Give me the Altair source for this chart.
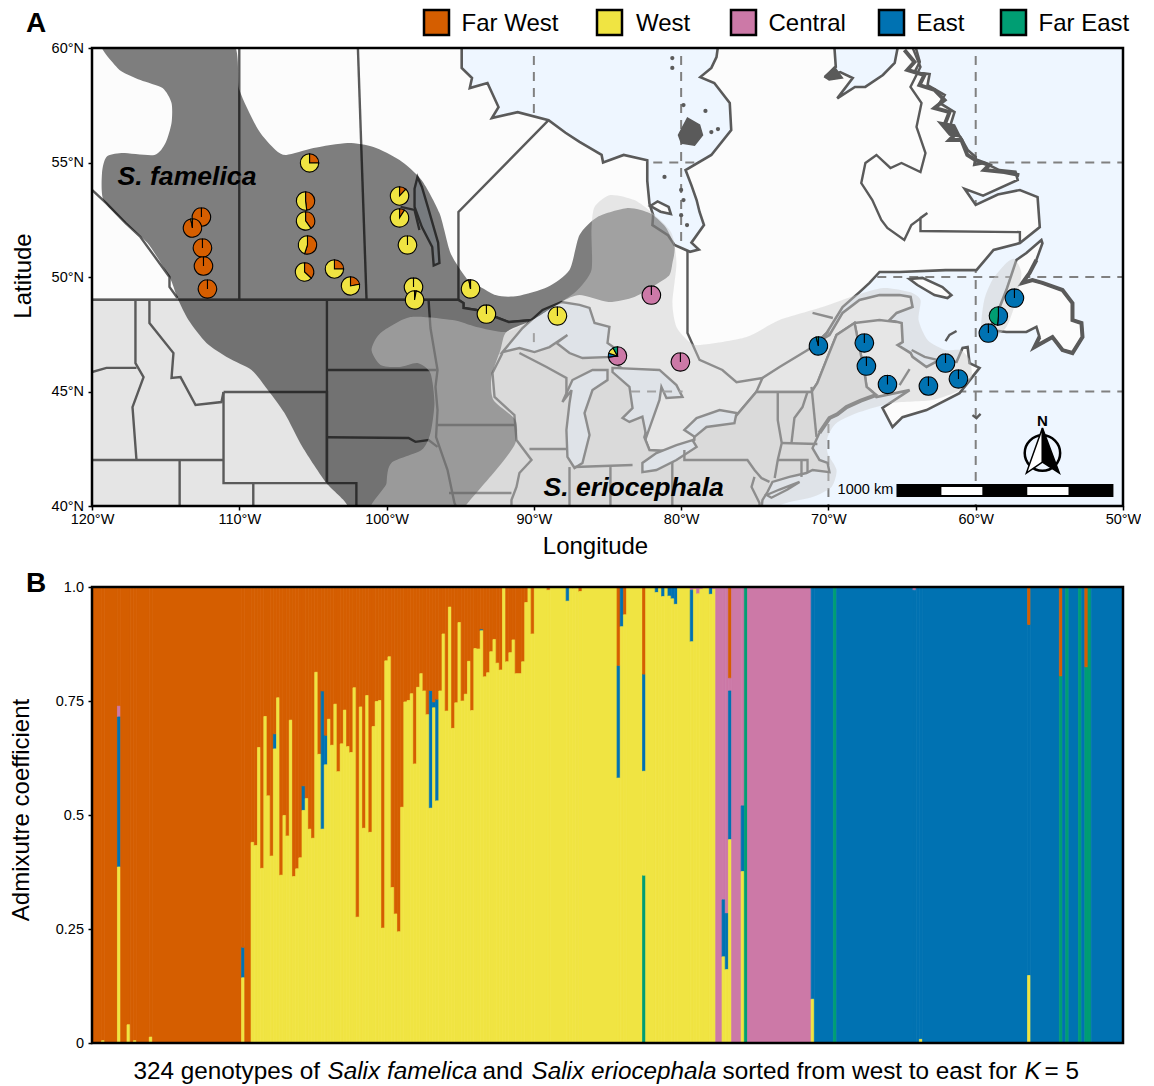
import altair as alt
import pandas as pd

FONT = "Liberation Sans"
POPS = ["Far West", "West", "Central", "East", "Far East"]
COLS = ["#D55E00", "#F0E442", "#CC79A7", "#0072B2", "#009E73"]
OCEAN = "#EEF6FF"
CAN = "#FCFCFC"
USA_C = "#E5E5E5"
BORDER_C = "#5A5A5A"

# ---------- map geometry (lon, lat) ----------
HUDSON = [(-94.9,61),(-94.9,59.13),(-94.2,58.69),(-94.35,58.25),(-93.15,58.47),(-92.4,57.42),(-92.85,56.94),(-91.1,57.2),(-89.0,56.85),(-87.85,56.3),(-86.9,55.9),(-85.4,55.33),(-85.3,55),(-83.9,55.33),(-82.3,55.1),(-82.3,54.2),(-82.15,53.2),(-81.9,52.7),(-81.95,52.27),(-80.9,51.83),(-80.45,51.4),(-79.4,51.1),(-78.8,51.2),(-79.3,51.5),(-78.45,52.27),(-78.75,52.84),(-78.95,53.36),(-79.3,54.0),(-79.7,54.67),(-77.95,55.33),(-76.6,56.42),(-76.7,57.6),(-77.75,58.47),(-78.7,58.73),(-77.95,59.13),(-77.6,59.6),(-77.3,61)]
UNGAVA = [(-69.7,61),(-69.5,59.17),(-70.25,58.73),(-69.2,58.95),(-68.35,58.69),(-69.4,57.8),(-68.2,58.3),(-67.5,58.3),(-66.3,58.82),(-65.5,59.35),(-65,61)]
LABRADOR = [(-64.5,61),(-63.8,59.39),(-64.15,58.95),(-63.13,58.86),(-63.27,58.38),(-62.11,57.95),(-62.45,57.6),(-61.44,57.2),(-61.78,56.5),(-61.03,56.11),(-60.55,55.55),(-60,55.24),(-60.1,54.9),(-59.4,54.98),(-58.4,54.67),(-57.3,54.6),(-57.15,54.24),(-59.5,53.55),(-60.75,53.85),(-60.0,53.15),(-58.5,53.6),(-57,53.8),(-55.8,53.49),(-55.65,52.18),(-57,51.48),(-58.79,51.18),(-59.95,50.3),(-62.05,50.3),(-65.17,50.22),(-66.53,50.22),(-67.21,49.74),(-67.89,49.34),(-69.04,48.69),(-70.13,47.55),(-70.75,47.16)]
LAB_ROUGH = [(-64.84,59.91),(-64.16,59.39),(-64.64,59.04),(-63.48,58.82),(-63.82,58.38),(-62.8,58.17),(-62.12,57.73),(-62.8,57.38),(-61.78,57.2),(-62.12,56.64),(-61.44,56.2),(-61.78,55.98),(-60.97,55.98),(-60.57,55.33),(-60.03,55.11),(-59.08,54.89),(-59.42,54.67),(-58.06,54.58),(-57.04,54.45)]
MARITIMES = [(-69.93,47.47),(-69.04,48.43),(-67.89,49),(-66.53,49.21),(-65.17,49.21),(-64.42,49.13),(-64.29,48.69),(-65.37,48.43),(-65.85,48.12),(-65.03,47.99),(-64.96,47.16),(-65.3,47.03),(-64.42,46.68),(-64.29,46.51),(-63.34,46.07),(-62.45,46.38),(-61.3,46.29),(-60.89,46.9),(-60.55,46.94),(-60.42,46.24),(-59.74,46.03),(-61.1,44.93),(-63.34,44.19),(-64.97,43.88),(-65.65,43.45),(-66.33,44.28),(-64.49,45.06),(-66.74,44.76)]
CAN_US = [(-121,49),(-95.12,49),(-94.78,48.86),(-94.78,48.65),(-93.9,48.56),(-92.6,48.25),(-91.7,48.03),(-90.09,48.12),(-87.6,47.68),(-85.5,47.03),(-84.7,46.38),(-82.8,45.3),(-82.15,43.75),(-82.5,43),(-82.15,42.44),(-80.1,42.36),(-79.1,42.88),(-79.1,43.5),(-76.4,43.84),(-74.9,44.98),(-71.15,44.98),(-70.75,45.37),(-70.13,46.38),(-69.45,47.47),(-68.23,47.99),(-67.55,45.81),(-67.41,45.2),(-67,44.98)]
US_COAST = [(-66.74,44.85),(-67.8,44.6),(-68.77,44.32),(-69.4,44.0),(-69.93,43.84),(-70.61,43.19),(-71.08,42.53),(-70.61,42.01),(-70.06,41.88),(-69.93,41.48),(-71.08,41.57),(-71.49,41.44),(-72.65,41.27),(-73.8,41.05),(-74.14,40.61),(-74.48,40.26),(-74.68,39)]
CANADA = [(-121,61)] + HUDSON + UNGAVA + LABRADOR + MARITIMES + CAN_US[::-1]
USA = CAN_US + US_COAST + [(-121,39)]
NEWFOUNDLAND = [(-55.54,51.62),(-56.56,51.05),(-57.24,50.74),(-57.92,49.43),(-58.53,48.43),(-59.08,47.69),(-57.92,47.6),(-56.56,47.6),(-55.88,47.82),(-55.67,47.38),(-56.01,46.94),(-54.79,47.38),(-54.11,46.81),(-53.43,46.68),(-52.75,47.38),(-52.82,47.99),(-53.43,48.12),(-53.43,48.86),(-54.11,49.43),(-55.47,49.74),(-56.15,49.87),(-56.83,49.74),(-56.35,50.17),(-55.88,50.74),(-55.47,51.48)]
ANTICOSTI = [(-64.5,49.91),(-63.62,49.96),(-62.26,49.56),(-61.65,49.21),(-61.92,49.08),(-62.8,49.21),(-63.96,49.65)]
AKIMISKI = [(-82.1,53.1),(-81.6,53.3),(-80.85,53.06),(-80.7,52.75),(-81.4,52.85),(-81.95,53.05)]
LONG_ISLAND = [(-74.2,40.48),(-73.32,40.72),(-71.96,41.05),(-72.78,40.72),(-73.87,40.36)]

L_SUPERIOR = [(-92.13,46.72),(-90.77,47.77),(-89.41,48.56),(-88.12,48.91),(-86.9,48.78),(-86.22,48.65),(-85.88,47.99),(-84.87,47.82),(-85,47.12),(-84.32,46.81),(-84.66,46.51),(-86.7,46.46),(-87.58,46.68),(-88.46,47.12),(-87.72,47.47),(-88.94,46.94),(-89.96,46.72),(-90.98,46.9)]
L_MICHIGAN = [(-85,45.94),(-86.02,45.94),(-87.38,45.5),(-88.06,44.54),(-87.44,45.06),(-87.58,44.5),(-87.79,43.32),(-87.72,42.14),(-87.24,41.66),(-86.7,41.88),(-86.22,43.1),(-86.56,44.06),(-86.02,45.06),(-85,45.5)]
L_HURON = [(-84.66,46.03),(-81.47,45.94),(-80.32,45.28),(-79.91,44.76),(-81,44.72),(-81.34,45.2),(-81.47,44.63),(-82.36,43.02),(-82.63,43.9),(-83.51,43.67),(-83.98,43.84),(-83.3,44.28),(-83.51,45.2),(-84.66,45.85)]
L_ERIE = [(-79.23,42.88),(-80.32,42.66),(-81.68,42.31),(-82.63,41.88),(-82.63,41.48),(-81.68,41.57),(-80.32,42.01),(-78.95,42.58)]
L_ONTARIO = [(-79.78,43.32),(-78.95,43.84),(-77.39,44.19),(-76.24,44.06),(-76.38,43.62),(-78.28,43.45),(-79.09,43.02)]
L_WINNIPEG = [(-98.1,53.85),(-97.9,54.37),(-97.6,53.93),(-97.2,53.06),(-96.5,51.5),(-96.41,50.61),(-96.8,50.5),(-96.9,51.31),(-97.6,52.18),(-98.1,53.06)]

BELCHER = [(-80.18,56.2),(-79.57,56.94),(-78.75,56.64),(-78.55,56.2),(-79.09,55.76),(-79.98,55.85)]
LAB_BLOB = [(-62.53,56.77),(-61.44,56.64),(-61.03,56.11),(-61.78,56.2)]
UNG_BLOB = [(-70.25,58.73),(-69.6,59.17),(-69.05,58.69),(-69.95,58.6)]

BC_AB = [(-120,53.8),(-119,53.2),(-117.73,52.36),(-116.71,51.75),(-114.74,50),(-114.74,49.57),(-114.2,49.08)]
AB_SK = [(-110,61),(-110,49)]
SK_MB = [(-102,61),(-101.36,49)]
MB_ON = [(-89,56.85),(-95.12,52.84),(-95.12,49)]
ON_QC = [(-79.57,51.18),(-79.57,47.55),(-78.75,46.38),(-77.2,45.94),(-76.24,45.41),(-74.48,45.59),(-74.9,44.98)]
ST_LAWRENCE = [(-74.48,45.59),(-73.32,46.07),(-71.08,46.94),(-70.13,47.55)]
SAGUENAY = [(-71.08,48.43),(-69.7,48.21)]
NB_QC = [(-68.23,47.99),(-66.53,48.12),(-65.37,48.03)]
NB_NS = [(-65.17,45.28),(-64.49,45.98)]
PEI = [(-64.35,46.81),(-63.47,46.51),(-62.6,46.38)]
MAGDALEN = [(-62.05,47.2),(-61.78,47.47),(-61.3,47.64)]
SABLE = [(-60.22,43.97),(-59.95,43.84),(-59.67,44.02)]
QC_LAB = [(-57,51.53),(-57,51.96),(-63.75,52.01),(-63.75,52.58),(-63.28,52.79),(-64.37,52.27),(-64.85,51.62),(-66,52.14),(-66.41,52.49),(-67.02,53.36),(-67.77,54.1),(-67.49,54.98),(-66.74,55.33),(-65.79,54.76),(-65.04,54.98),(-63.75,54.58),(-63.41,55.41),(-64.02,56.55),(-63.68,57.6),(-64.43,58.3),(-63.75,59.17),(-64.91,61)]
WA_OR = [(-120,45.85),(-119.02,46.03),(-116.98,46.03)]
OR_ID = [(-117.05,49),(-117.05,46.24),(-116.5,45.63),(-117.25,44.32),(-116.98,42.01)]
MT_ID = [(-116.1,49),(-116.1,47.99),(-114.47,46.68),(-114.6,45.59),(-113.99,45.63),(-112.97,44.41),(-111.21,44.54),(-111.07,44.98)]
ID_S = [(-120,42.01),(-111.07,42.01)]
WY = [(-111.07,44.98),(-104.05,44.98),(-104.05,41),(-111.07,41),(-111.07,44.98)]
MT_ND = [(-104.05,49),(-104.05,41)]
SD_ND = [(-104.05,45.94),(-96.6,45.94)]
SD_NE = [(-104.05,43),(-98.51,42.97),(-98.04,42.8),(-97.15,42.88),(-96.54,42.58)]
NE_CO = [(-104.05,41),(-102.05,41),(-102.05,40)]
UT_CO = [(-109.05,41),(-109.05,40)]
NV_UT = [(-114.05,42),(-114.05,40)]
RED_RIVER = [(-97.15,49),(-97.02,47.77),(-96.54,45.94),(-96.68,45.2),(-96.54,44.19),(-96.64,43.01),(-95.86,41.57),(-95.39,40.13),(-95.3,40)]
IA_MN = [(-96.54,43.54),(-91.25,43.54)]
IA_MO = [(-95.76,40.57),(-91.52,40.57)]
MISSISSIPPI = [(-92.13,46.68),(-92.81,45.81),(-92.67,44.76),(-91.32,43.97),(-91.18,42.88),(-90.16,42.01),(-90.98,41.44),(-91.18,40.83),(-91.52,40.26),(-91.52,40)]
WI_IL = [(-90.3,42.49),(-87.79,42.49)]
WI_MI = [(-90.98,46.68),(-89.14,46.07),(-87.79,45.59),(-87.79,44.93)]
MI_S = [(-87.24,41.7),(-83.3,41.79)]
IL_IN = [(-87.58,41.7),(-87.58,40)]
IN_OH = [(-84.8,41.7),(-84.8,40)]
OH_PA = [(-80.6,41.92),(-80.6,40)]
NY_PA = [(-79.78,42.44),(-79.78,42.01),(-75.5,42.01),(-75.02,41.57),(-74.55,41.22),(-74,41.05)]
PA_NJ = [(-75.02,41.27),(-75.22,40.83),(-74.68,40.13),(-74.68,40)]
NY_VT = [(-73.44,44.98),(-73.44,43.75),(-73.17,42.75),(-73.44,42.01),(-73.65,41.22)]
MA_N = [(-73.17,42.75),(-70.75,42.71)]
NH_VT = [(-71.42,44.98),(-71.76,44.32),(-72.31,43.84),(-72.51,42.75)]
NH_ME = [(-71.15,45.2),(-70.81,43.02)]
MA_CT = [(-73.44,42.01),(-71.42,42.01),(-71.42,41.48)]
CT_RI = [(-71.83,42.01),(-71.83,41.27)]
WINNIPEGOSIS = [(-99.05,53.06),(-98.1,52.93),(-97.77,52.05)]

BORDERS = [BC_AB,AB_SK,SK_MB,MB_ON,ON_QC,ST_LAWRENCE,SAGUENAY,NB_QC,NB_NS,PEI,MAGDALEN,SABLE,QC_LAB,WA_OR,OR_ID,MT_ID,ID_S,WY,MT_ND,SD_ND,SD_NE,NE_CO,UT_CO,NV_UT,RED_RIVER,IA_MN,IA_MO,MISSISSIPPI,WI_IL,WI_MI,MI_S,IL_IN,IN_OH,OH_PA,NY_PA,PA_NJ,NY_VT,MA_N,NH_VT,NH_ME,MA_CT,CT_RI,WINNIPEGOSIS]

ISLET_LON = [-79.84,-78.35,-77.95,-77.5,-80.6,-80.6,-81.13,-80,-79.84,-80,-79.6]
ISLET_LAT = [57.51,57.25,56.33,56.46,59.56,59.13,54.37,53.8,53.36,52.7,52.27]

GRID_LONS = [-90,-80,-70,-60]
GRID_LATS = [55,50,45]
LAKE_GRID = [[(-90,47.55),(-90,46.95)],[(-83.4,45),(-79.9,45)]]

FAMELICA = [(-119.22,60.5),(-110.83,60.5),(-109.99,58.17),(-108.7,56.42),(-107.54,55.55),(-106.8,55.33),(-104.96,55.63),(-102.65,55.85),(-100.89,55.68),(-99.12,55.11),(-97.63,54.24),(-96.41,52.79),(-95.66,51.05),(-94.64,50),(-94.37,49.87),(-92.6,49.21),(-91.1,49.17),(-89.07,49.56),(-87.58,50.31),(-86.9,51.83),(-85.68,52.62),(-83.64,53.01),(-82.15,52.79),(-81.06,52.18),(-80.45,51.31),(-80.59,50.61),(-80.79,50.09),(-81.54,49.74),(-83.17,49.13),(-84.93,48.91),(-86.9,49.21),(-88.12,48.91),(-90.09,48.12),(-91.86,47.6),(-92.27,46.81),(-92.88,45.63),(-92.74,44.63),(-91.25,43.75),(-91.25,42.75),(-92.4,41.7),(-94.64,40),(-95.6,39),(-103.3,39),(-102.65,40),(-104.08,41),(-105.71,42.58),(-106.93,44.06),(-108.22,45.2),(-109.17,45.94),(-110.73,46.46),(-112.23,47.12),(-113.45,48.12),(-114.2,49.08),(-114.74,50),(-116.23,51.48),(-117.73,52.36),(-119.22,53.36),(-119.32,54.54),(-119.02,55.24),(-118,55.41),(-115.76,55.33),(-115.01,55.85),(-114.6,56.72),(-114.6,57.6),(-115.21,58.25),(-116.71,58.6),(-118.27,59.13)]
ERIOCEPHALA = [(-100,39),(-100,41),(-99.67,41.88),(-97.63,42.44),(-97.02,43.19),(-96.75,44.5),(-97.02,45.8),(-97.9,46.24),(-99.12,46.07),(-100.41,46.16),(-101.02,46.81),(-100.41,47.55),(-98.38,48.25),(-95.52,48.12),(-93.9,47.82),(-91.86,47.6),(-90.09,48.12),(-88.12,48.91),(-87.04,49.43),(-86.09,50.31),(-86.09,52.05),(-85.88,53.06),(-84.8,53.58),(-83.17,53.36),(-81.95,52.79),(-80.66,51.92),(-80.32,50.61),(-80.59,48.86),(-80.32,47.82),(-79.43,47.16),(-78.68,47.03),(-75.56,47.38),(-73.32,48.12),(-70.4,48.69),(-68.09,49.21),(-66.26,49.52),(-64.49,49.34),(-63.75,49),(-63.88,48.12),(-63.27,47.25),(-62.05,46.81),(-61.03,46.81),(-60.42,46.38),(-60.28,45.63),(-61.1,45.06),(-62.93,44.63),(-65.65,44.5),(-67.89,44.1),(-69.45,43.62),(-70.06,43),(-70.06,42.31),(-69.45,41.57),(-69.79,40.83),(-71.08,40.39),(-72.85,40.13),(-74,39.8),(-75,39)]
NF_RANGE = [(-57.37,50.79),(-56.9,50.17),(-57.24,49),(-57.92,47.82),(-59.08,47.25),(-59.62,47.82),(-59.42,49),(-58.87,49.87),(-57.92,50.61)]

# ---------- pies ----------
PIE_LON = [-112.57,-113.18,-112.5,-112.43,-112.16,-105.23,-105.5,-105.5,-105.37,-105.57,-103.54,-102.45,-99.12,-99.12,-98.58,-98.17,-98.1,-94.3,-93.22,-88.4,-84.32,-82.02,-80.05,-70.68,-67.56,-67.42,-65.99,-63.21,-62.05,-61.17,-59.14,-58.46,-57.37]
PIE_LAT = [52.62,52.14,51.27,50.48,49.48,54.98,53.32,52.45,51.4,50.22,50.35,49.61,53.54,52.58,51.4,49.56,49.0,49.48,48.38,48.3,46.55,49.21,46.29,46.99,47.12,46.11,45.31,45.24,46.24,45.55,47.55,48.3,49.08]
PIE_MIX = [
 [("Far West",.999)],[("Far West",.97),("West",.03)],[("Far West",.999)],[("Far West",.999)],[("Far West",.999)],
 [("Far West",.25),("West",.75)],[("Far West",.48),("West",.52)],[("Far West",.40),("West",.60)],[("Far West",.55),("West",.45)],[("Far West",.37),("West",.63)],
 [("Far West",.25),("West",.75)],[("Far West",.22),("West",.78)],[("Far West",.12),("West",.88)],[("Far West",.09),("West",.91)],
 [("West",.999)],[("West",.999)],[("Far West",.03),("West",.97)],[("West",.97),("Far West",.03)],[("West",.999)],[("West",.999)],
 [("Central",.73),("East",.07),("West",.12),("Far East",.08)],[("Central",.999)],[("Central",.999)],
 [("East",.96),("Far East",.04)],[("East",.999)],[("East",.999)],[("East",.999)],[("East",.999)],[("East",.999)],[("East",.999)],[("East",.999)],
 [("East",.515),("Far East",.485)],[("East",.999)],
]

# ---------- admixture: cumulative tops, bottom-up Far East / West / East / Central, rest Far West ----------
N_GENOTYPES = 324
WEST_TOPS_50 = [.44,.433,.648,.383,.716,.542,.41,.645,.757,.368,.499,.454,.708,.365,.382,.406,.51,.536,.469,.449,.813,.633,.469,.61,.71,.653,.743,.595,.656,.73,.65,.637,.779,.276,.737,.471,.762,.462,.694,.749,.751,.252,.838,.847,.341,.283,.244,.517,.748,.751,.766,.612,.78,.81,.772,.72,.515,.735,.531,.772,.897,.728,.956,.69,.746,.922,.75,.765,.837,.729,.865,.864,.904,.803,.812,.858,.885,.833,.818,1.0,.836,.856,.884,.81,.81,.836,.966,1.0,.897]
EAST_TOPS = {57:.678,66:.564,72:.772,73:.675,106:.773,107:.748,108:.754,122:.908}
SPECIAL = {
 3:(0,.005,.005,.005),8:(0,.386,.715,.74),11:(0,.04,.04,.04),13:(0,.005,.005,.005),18:(0,.013,.013,.013),47:(0,.143,.21,.21),
 143:(0,.993,.993,.993),149:(0,.969,1,1),151:(0,.997,.997,.997),153:(0,.99,.99,.99),165:(0,.581,.828,.828),166:(0,.913,1,1),167:(0,.939,.939,.939),
 173:(.368,.596,.809,.809),177:(0,.988,1,1),179:(0,.979,1,1),181:(0,.98,1,1),182:(0,.974,1,1),183:(0,.962,1,1),
 188:(0,.88,.993,1),189:(0,.995,.995,1),190:(0,.985,.985,1),191:(0,.995,.995,1),194:(0,.984,1,1),195:(0,.995,.995,1),
 198:(0,.189,.314,1),199:(0,.161,.284,1),200:(0,.446,.772,.801),204:(0,.376,.52,1),205:(1,1,1,1),
 226:(0,.096,1,1),233:(1,1,1,1),258:(0,0,.993,1),260:(0,.008,1,1),294:(0,.148,.918,.918),304:(.805,.805,.805,.805),306:(1,1,1,1),310:(1,1,1,1),312:(.825,.825,.825,.825),313:(1,1,1,1),
}

def mix_of(i):
    if i in SPECIAL:
        return SPECIAL[i]
    if i < 50:
        return (0, 0, 0, 0)
    if i <= 138:
        w = WEST_TOPS_50[i - 50]
        return (0, w, EAST_TOPS.get(i, w), EAST_TOPS.get(i, w))
    if i < 196:
        return (0, 1, 1, 1)
    if i < 226:
        return (0, 0, 0, 1)
    return (0, 0, 1, 1)

order_bottom_up = ["Far East", "West", "East", "Central", "Far West"]
raw = []
for i in range(N_GENOTYPES):
    tops = list(mix_of(i)) + [1.0]
    low = 0.0
    for pop, top in zip(order_bottom_up, tops):
        if top > low:
            raw.append(dict(g0=i, g1=i + 1, v0=low, v1=top, pop=pop))
        low = max(low, top)
raw.sort(key=lambda r: (r["pop"], r["v0"], r["v1"], r["g0"]))
bars = []
for r in raw:
    p = bars[-1] if bars else None
    if p and p["pop"] == r["pop"] and p["v0"] == r["v0"] and p["v1"] == r["v1"] and p["g1"] == r["g0"]:
        p["g1"] = r["g1"]
    else:
        bars.append(dict(r))
bars.sort(key=lambda r: r["g0"])
bars_df = pd.DataFrame(bars)

# ---------- helpers ----------
color_scale = alt.Scale(domain=POPS, range=COLS)
lon_scale = alt.Scale(domain=[-120, -50], nice=False, zero=False)
lat_scale = alt.Scale(domain=[40, 60], nice=False, zero=False)
X = alt.X("lon:Q", scale=lon_scale, axis=alt.Axis(
    values=[-120,-110,-100,-90,-80,-70,-60,-50], labelExpr="abs(datum.value)+'°W'",
    title="Longitude", titleFontSize=24, titleFont=FONT, titleFontWeight="normal", titleColor="black",
    titlePadding=9, titleX=503, labelFont=FONT, labelFontSize=14.5, labelColor="black", tickColor="black", tickSize=4, tickWidth=1.5,
    domain=False, grid=False, labelPadding=2, labelFlush=False, labelOverlap=False))
Y = alt.Y("lat:Q", scale=lat_scale, axis=alt.Axis(
    values=[40,45,50,55,60], labelExpr="datum.value+'°N'",
    title="Latitude", titleFontSize=24, titleFont=FONT, titleFontWeight="normal", titleColor="black",
    titlePadding=4, titleY=227.5, labelFont=FONT, labelFontSize=14.5, labelColor="black", tickColor="black", tickSize=4, tickWidth=1.5,
    domain=False, grid=False, labelPadding=4.5, minExtent=53, labelOverlap=False))

def frame(paths):
    rows = []
    for k, path in enumerate(paths):
        for j, (a, b) in enumerate(path):
            rows.append(dict(lon=a, lat=b, ord=j, id=k))
    return pd.DataFrame(rows)

def shapes(paths, **mark):
    return alt.Chart(frame(paths)).mark_line(clip=True, **mark).encode(
        x=X, y=Y, detail="id:N", order="ord:Q")

def box(lon0, lon1, lat0, lat1, **mark):
    d = pd.DataFrame([dict(lon=lon0, lon2=lon1, lat=lat0, lat2=lat1)])
    return alt.Chart(d).mark_rect(**mark).encode(x=X, x2="lon2:Q", y=Y, y2="lat2:Q")

def label(text, x, y, size, **kw):
    return alt.Chart(pd.DataFrame([dict(t=text)])).mark_text(
        font=FONT, fontSize=size, color="black", align=kw.pop("align", "left"), baseline="alphabetic", **kw
    ).encode(x=alt.value(x), y=alt.value(y), text="t:N")

def swatch(colour, x):
    return alt.Chart(pd.DataFrame([dict(t=0)])).mark_rect(fill=colour, stroke="black", strokeWidth=2.5).encode(
        x=alt.value(x), x2=alt.value(x + 25), y=alt.value(-38), y2=alt.value(-13))

grid_paths = [[(g, 39), (g, 61)] for g in GRID_LONS] + [[(-121, g), (-49, g)] for g in GRID_LATS]

pie_rows = []
for a, b, mix in zip(PIE_LON, PIE_LAT, PIE_MIX):
    t = 0.0
    for pop, f in mix:
        pie_rows.append(dict(lon=a, lat=b, t0=t, t1=t + f, pop=pop))
        t += f
pie_df = pd.DataFrame(pie_rows)

pies = alt.Chart(pie_df).mark_arc(outerRadius=9.2, stroke="black", strokeWidth=1.1).encode(
    x=X, y=Y,
    theta=alt.Theta("t0:Q", scale=alt.Scale(domain=[0, 1], range=[0, 6.28319]), stack=False),
    theta2=alt.Theta2("t1:Q"),
    color=alt.Color("pop:N", scale=color_scale, legend=None),
)

islets = alt.Chart(pd.DataFrame(dict(lon=ISLET_LON, lat=ISLET_LAT))).mark_point(
    filled=True, size=18, color=BORDER_C, opacity=1, clip=True).encode(x=X, y=Y)

compass_ring = alt.Chart(pd.DataFrame(dict(lon=[-55.47], lat=[42.31]))).mark_point(
    shape="circle", size=1257, filled=False, stroke="black", strokeWidth=2.5, opacity=1).encode(x=X, y=Y)
compass_text = alt.Chart(pd.DataFrame(dict(lon=[-55.47], lat=[43.72], t=["N"]))).mark_text(
    font=FONT, fontSize=15, fontWeight="bold", color="black").encode(x=X, y=Y, text="t:N")
scale_text = alt.Chart(pd.DataFrame(dict(lon=[-65.6], lat=[40.68], t=["1000 km"]))).mark_text(
    font=FONT, fontSize=14.5, color="black", align="right", baseline="middle").encode(x=X, y=Y, text="t:N")

map_panel = alt.layer(
    box(-120, -50, 40, 60, fill=OCEAN),
    shapes(grid_paths, color="#808080", strokeWidth=2, strokeDash=[9, 7]),
    shapes([CANADA, NEWFOUNDLAND, ANTICOSTI, AKIMISKI], interpolate="linear-closed", fill=CAN, color=BORDER_C, strokeWidth=2.6),
    shapes([USA], interpolate="linear-closed", fill=USA_C, color=BORDER_C, strokeWidth=2.4),
    shapes([LONG_ISLAND], interpolate="linear-closed", fill=OCEAN, color=BORDER_C, strokeWidth=2.4),
    shapes([L_SUPERIOR, L_MICHIGAN, L_HURON, L_ERIE, L_ONTARIO, L_WINNIPEG], interpolate="linear-closed", fill=OCEAN, color=BORDER_C, strokeWidth=2.4),
    shapes(LAKE_GRID, color="#808080", strokeWidth=2, strokeDash=[9, 7]),
    shapes(BORDERS, color=BORDER_C, strokeWidth=2.4),
    shapes([LAB_ROUGH, NEWFOUNDLAND[9:24], US_COAST[:6]], color=BORDER_C, strokeWidth=4),
    shapes([BELCHER, LAB_BLOB, UNG_BLOB], interpolate="linear-closed", fill=BORDER_C, color=BORDER_C, strokeWidth=1.5),
    islets,
    shapes([FAMELICA], interpolate="cardinal-closed", tension=0.3, fill="#000000", fillOpacity=0.5, strokeWidth=0, strokeOpacity=0),
    shapes([ERIOCEPHALA, NF_RANGE], interpolate="cardinal-closed", tension=0.3, fill="#CBCBCB", fillOpacity=0.45, strokeWidth=0, strokeOpacity=0),
    box(-65.38, -50.65, 40.39, 40.96, fill="black"),
    box(-62.33, -59.55, 40.48, 40.83, fill="white"),
    box(-56.5, -53.7, 40.48, 40.83, fill="white"),
    compass_ring,
    shapes([[(-55.47,43.41),(-55.47,41.92),(-56.56,41.44)]], interpolate="linear-closed", fill="white", color="black", strokeWidth=1.5),
    shapes([[(-55.47,43.41),(-55.47,41.92),(-54.32,41.44)]], interpolate="linear-closed", fill="black", color="black", strokeWidth=1.5),
    compass_text, scale_text,
    pies,
    label("S. famelica", 25.5, 137, 26.6, fontStyle="italic", fontWeight="bold"),
    label("S. eriocephala", 451.5, 448, 26.6, fontStyle="italic", fontWeight="bold"),
    label("A", -66, -16, 28, fontWeight="bold"),
    swatch(COLS[0], 332), label("Far West", 369.5, -17, 24),
    swatch(COLS[1], 505), label("West", 544, -17, 24),
    swatch(COLS[2], 639), label("Central", 676.5, -17, 24),
    swatch(COLS[3], 787), label("East", 824.5, -17, 24),
    swatch(COLS[4], 909), label("Far East", 946.5, -17, 24),
    box(-120, -50, 40, 60, fillOpacity=0, stroke="black", strokeWidth=2.5),
).properties(width=1031, height=458)

GX = alt.X("g0:Q", scale=alt.Scale(domain=[0, N_GENOTYPES], nice=False, zero=False), axis=None)
GY = alt.Y("v0:Q", scale=alt.Scale(domain=[0, 1], nice=False), axis=alt.Axis(
    values=[0, .25, .5, .75, 1], labelExpr="datum.value==1?'1.0':format(datum.value,'')",
    title="Admixutre coefficient", titleFontSize=24, titleFont=FONT, titleFontWeight="normal", titleColor="black",
    titlePadding=6, titleY=222.5, labelFont=FONT, labelFontSize=14.5, labelColor="black", tickColor="black", tickSize=4, tickWidth=1.5,
    domain=False, grid=False, labelPadding=4.5, minExtent=53, labelOverlap=False))

bar_layer = alt.Chart(bars_df).mark_rect(strokeWidth=0.7).encode(
    x=GX, x2="g1:Q", y=GY, y2="v1:Q",
    color=alt.Color("pop:N", scale=color_scale, legend=None),
    stroke=alt.Stroke("pop:N", scale=color_scale, legend=None),
)
frame_b = alt.Chart(pd.DataFrame([dict(g0=0, g1=N_GENOTYPES, v0=0, v1=1)])).mark_rect(
    fillOpacity=0, stroke="black", strokeWidth=2.5).encode(x=GX, x2="g1:Q", y=GY, y2="v1:Q")

CAPTION_Y = 492
bar_panel = alt.layer(
    bar_layer, frame_b,
    label("B", -66, 5, 28, fontWeight="bold"),
    label("324 genotypes of", 41.5, CAPTION_Y, 24.3),
    label("Salix famelica", 235.5, CAPTION_Y, 24.3, fontStyle="italic"),
    label("and", 390.5, CAPTION_Y, 24.3),
    label("Salix eriocephala", 439.5, CAPTION_Y, 24.3, fontStyle="italic"),
    label("sorted from west to east for", 630.5, CAPTION_Y, 24.3),
    label("K", 932.5, CAPTION_Y, 24.3, fontStyle="italic"),
    label("= 5", 952.5, CAPTION_Y, 24.3),
).properties(width=1031, height=456)

chart = alt.vconcat(map_panel, bar_panel, spacing=11).resolve_scale(color="independent", stroke="independent").configure_view(strokeWidth=0).properties(padding={"left": 1, "top": 0, "right": 0, "bottom": 0}, background="white")
chart.save("out.html", embed_options={"renderer": "svg", "actions": False})
